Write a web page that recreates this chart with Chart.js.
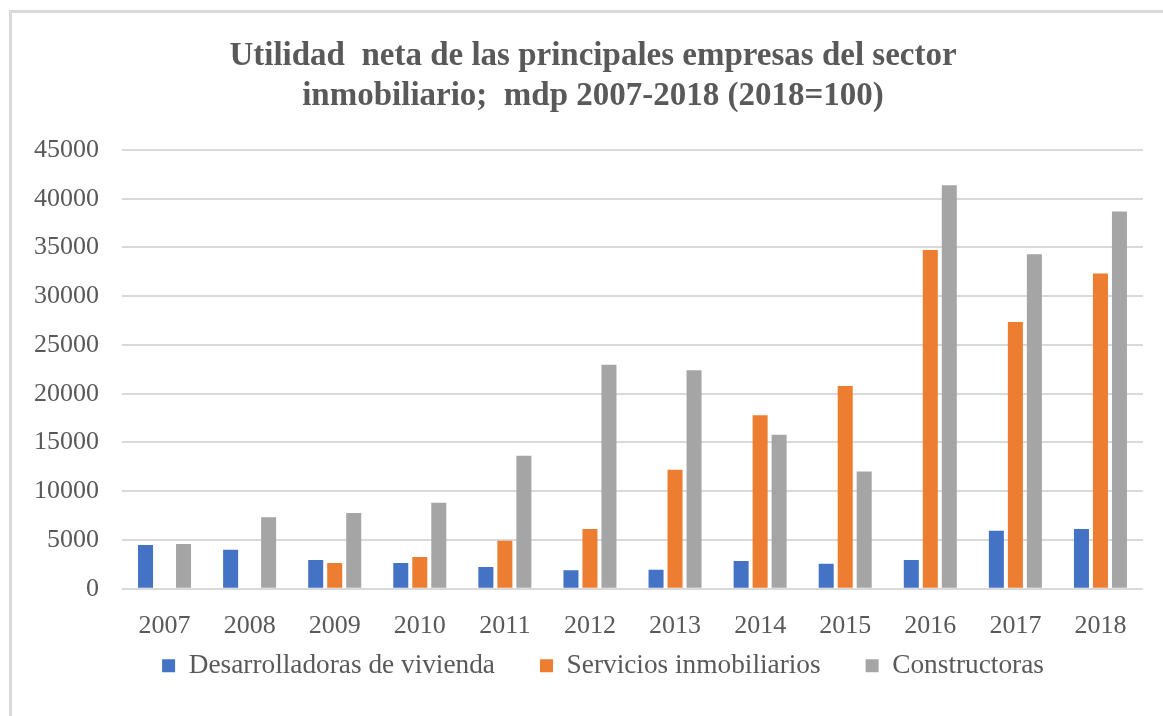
<!DOCTYPE html>
<html>
<head>
<meta charset="utf-8">
<script src="https://cdn.jsdelivr.net/npm/chart.js@4/dist/chart.umd.min.js"></script>
<style>
  html, body { margin: 0; padding: 0; background: #ffffff; }
  #wrap { position: relative; width: 1163px; height: 716px; overflow: hidden; }
  #frame { position: absolute; left: 9px; top: 10px; width: 1200px; height: 800px;
           border-left: 3px solid #d9d9d9; border-top: 3px solid #d9d9d9; pointer-events: none; }
  canvas { position: absolute; left: 0; top: 0; }
</style>
</head>
<body>
<div id="wrap">
  <canvas id="c" width="1163" height="716"></canvas>
  <div id="frame"></div>
</div>
<script>
const titleLines = ['Utilidad  neta de las principales empresas del sector', 'inmobiliario;  mdp 2007-2018 (2018=100)'];
const years = ['2007', '2008', '2009', '2010', '2011', '2012', '2013', '2014', '2015', '2016', '2017', '2018'];
const seriesNames = ['Desarrolladoras de vivienda', 'Servicios inmobiliarios', 'Constructoras'];
const desarrolladoras = [4480, 4000, 2940, 2630, 2220, 1880, 1950, 2840, 2560, 2940, 5950, 6120];
const servicios = [null, null, 2630, 3250, 4920, 6120, 12200, 17780, 20800, 34750, 27360, 32320];
const constructoras = [4580, 7320, 7760, 8820, 13650, 22980, 22400, 15800, 12030, 41380, 34300, 38680];
const yTicks = [0, 5000, 10000, 15000, 20000, 25000, 30000, 35000, 40000, 45000];
const colors = ['#4472C4', '#ED7D31', '#A5A5A5'];

const textColor = '#595959';
const serif = '"Liberation Serif", "Times New Roman", serif';

// after layout: widen the axes' label clip areas and nudge the legend block to the right
const layoutTweaks = {
  id: 'layoutTweaks',
  afterLayout(chart) {
    chart.scales.y.left = 0;
    chart.scales.x.bottom = chart.height;
    chart.legend.left += 10;
    chart.legend.right += 10;
  }
};

new Chart(document.getElementById('c'), {
  type: 'bar',
  plugins: [layoutTweaks],
  data: {
    labels: years,
    datasets: [desarrolladoras, servicios, constructoras].map((d, i) => ({
      label: seriesNames[i],
      data: d,
      backgroundColor: colors[i],
      borderWidth: 0,
      categoryPercentage: 0.67,
      barPercentage: 0.79
    }))
  },
  options: {
    responsive: false,
    animation: false,
    devicePixelRatio: 1,
    layout: { padding: { left: 43, right: 20, top: 0, bottom: 26.5 } },
    plugins: {
      tooltip: { enabled: false },
      title: {
        display: true,
        text: titleLines,
        color: textColor,
        font: { family: serif, size: 33, weight: 'bold', lineHeight: 40 / 33 },
        padding: { top: 36, bottom: 34 }
      },
      legend: {
        position: 'bottom',
        labels: {
          color: textColor,
          font: { family: serif, size: 27.3 },
          boxWidth: 13,
          boxHeight: 13,
          padding: 45
        }
      }
    },
    scales: {
      x: {
        grid: { display: false },
        border: { display: false },
        ticks: { color: textColor, font: { family: serif, size: 26 }, padding: 14, maxRotation: 0 },
        afterFit: (s) => { s.height = 18.5; }
      },
      y: {
        min: 0,
        max: 45000,
        afterBuildTicks: (s) => { s.ticks = yTicks.map(v => ({ value: v })); },
        grid: { color: '#d9d9d9', lineWidth: 2, drawTicks: false },
        border: { display: false },
        ticks: { color: textColor, font: { family: serif, size: 26 }, padding: 23,
                 callback: (v) => String(v) },
        afterFit: (s) => { s.width = 79; }
      }
    }
  }
});
</script>
</body>
</html>
